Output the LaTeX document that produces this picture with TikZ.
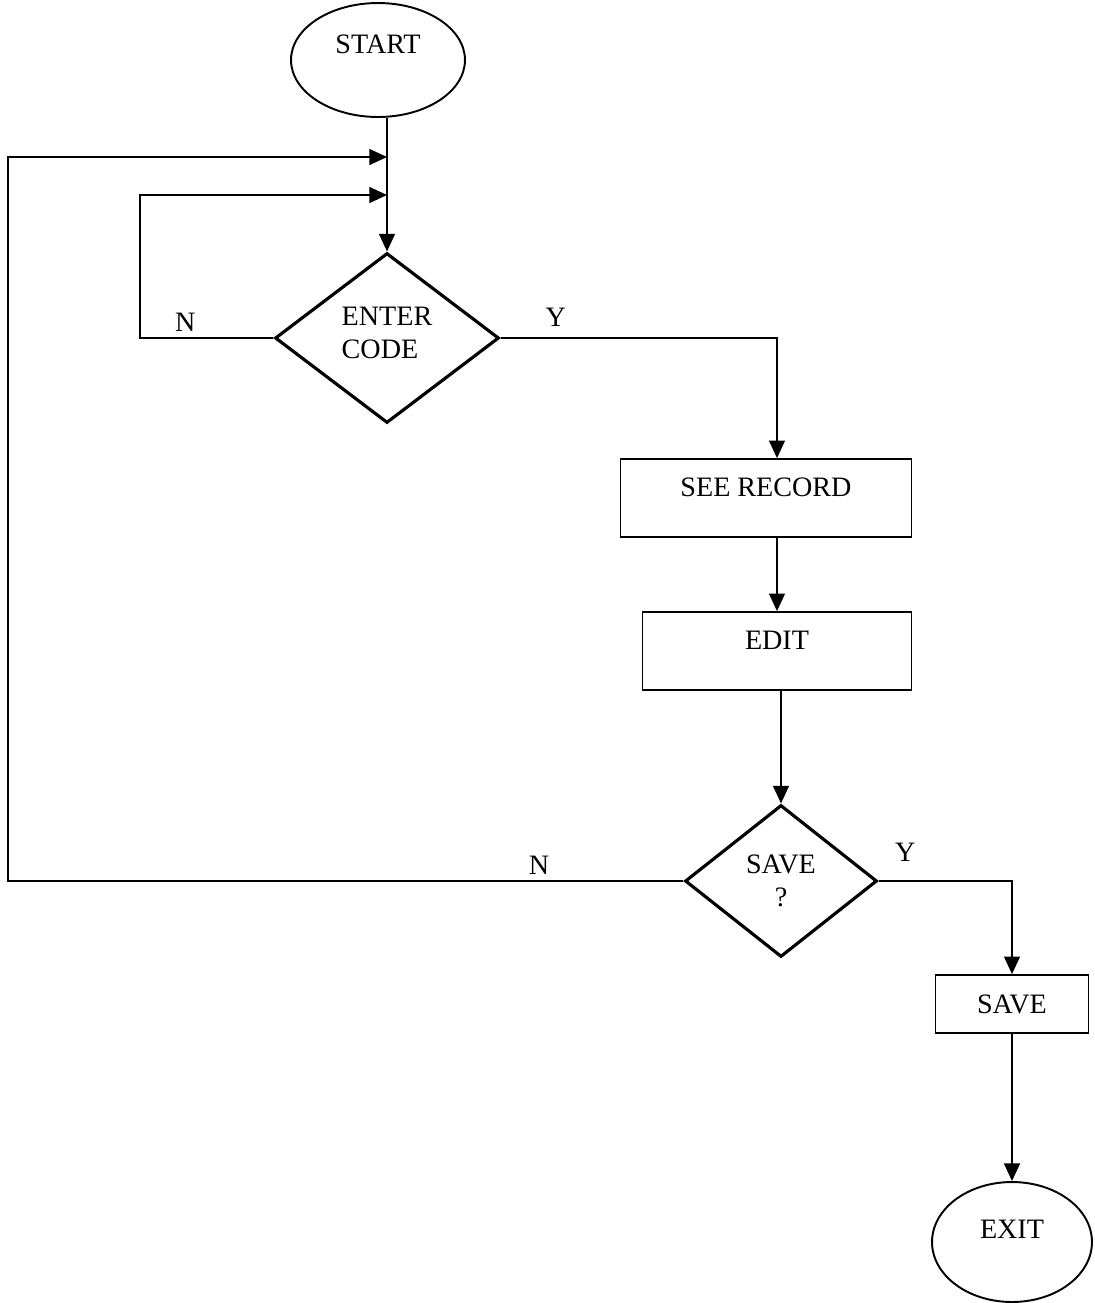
\documentclass[tikz,border=0pt]{standalone}
\usepackage{fontspec}
\setmainfont{Liberation Serif}
\usepackage{tikz}
\usetikzlibrary{arrows.meta}
\usetikzlibrary{shapes.geometric}
\usetikzlibrary{positioning}
\tikzset{term/.style={ellipse,draw=black,line width=1.1pt,inner sep=2pt},
 decide/.style={diamond,draw=black,line width=1.8pt,align=center,inner sep=0pt},
 proc/.style={rectangle,draw=black,line width=1pt,inner sep=2pt},
 flow/.style={line width=1pt,-{Triangle[length=10pt,width=9pt]}},
 lbl/.style={inner sep=3pt}}
\begin{document}
\begin{tikzpicture}[x=0.02cm,y=-0.02cm,font=\fontsize{16}{19}\selectfont]
\useasboundingbox (0,0) rectangle (1095,1303);
\node[term, minimum width=3.48cm, minimum height=2.28cm, text depth=0.64cm] (start) at (378,60) {START};
\node[decide, align=left, minimum width=4.48cm, minimum height=3.4cm, text depth=0.2cm] (enter) at (387,338) {ENTER\\CODE};
\node[proc, minimum width=5.82cm, minimum height=1.56cm, text depth=0.44cm] (see) at (766,498) {SEE RECORD};
\node[proc, minimum width=5.38cm, minimum height=1.56cm, text depth=0.44cm] (edit) at (777,651) {EDIT};
\node[decide, minimum width=3.84cm, minimum height=3.04cm] (saveq) at (781,881) {SAVE\\?};
\node[proc, minimum width=3.06cm, minimum height=1.16cm] (save) at (1012,1004) {SAVE};
\node[term, minimum width=3.2cm, minimum height=2.4cm, text depth=0.52cm] (exit) at (1012,1242) {EXIT};

% entry points of the two loops
\coordinate (in1) at (387,157);
\coordinate (in2) at (387,195);
\coordinate (loopY) at (8,157);
\coordinate (loopN) at (140,195);

 \draw[flow] (start.south -| enter.north) -- (enter.north);
 \draw[flow] (enter.west) -| node[lbl, above, pos=0.33] {N} (loopN) -- (in2);
 \draw[flow] (enter.east) -| node[lbl, above=0.11cm, pos=0.1] {Y} (see.north -| edit.north);
 \draw[flow] (see.south -| edit.north) -- (edit.north);
 \draw[flow] (edit.south -| saveq.north) -- (saveq.north);
 \draw[flow] (saveq.west) -| node[lbl, above, pos=0.107] {N} (loopY) -- (in1);
 \draw[flow] (saveq.east) -| node[lbl, above=0.26cm, pos=0.1] {Y} (save.north);
 \draw[flow] (save.south) -- (exit.north);

\end{tikzpicture}
\end{document}
